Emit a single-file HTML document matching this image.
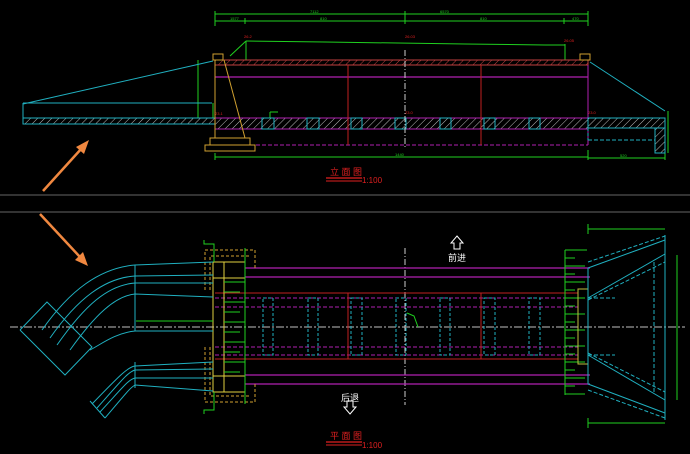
<!DOCTYPE html>
<html><head><meta charset="utf-8"><style>
html,body{margin:0;padding:0;background:#000;width:690px;height:454px;overflow:hidden}
svg{display:block}
text{font-family:"Liberation Sans","Noto Sans CJK SC",sans-serif}
</style></head><body>
<svg width="690" height="454" viewBox="0 0 690 454" xmlns="http://www.w3.org/2000/svg">
<defs>
<pattern id="hr" width="5" height="5" patternUnits="userSpaceOnUse" patternTransform="rotate(45)"><line x1="0" y1="0" x2="0" y2="5" stroke="#c04040" stroke-width="1"/></pattern>
<pattern id="hw" width="5" height="5" patternUnits="userSpaceOnUse" patternTransform="rotate(45)"><line x1="0" y1="0" x2="0" y2="5" stroke="#bbb" stroke-width="1"/></pattern>
</defs>
<rect width="690" height="454" fill="#000"/>
<!-- separators -->
<line x1="0" y1="195" x2="690" y2="195" stroke="#666" stroke-width="1"/>
<line x1="0" y1="212" x2="690" y2="212" stroke="#666" stroke-width="1"/>

<!-- ===== ELEVATION ===== -->
<g stroke="#1fd01f" stroke-width="1" fill="none">
<line x1="215" y1="14" x2="588" y2="14"/><line x1="215" y1="21" x2="588" y2="21"/>
<line x1="215" y1="11" x2="215" y2="26"/><line x1="588" y1="11" x2="588" y2="26"/>
<line x1="405" y1="11" x2="405" y2="24"/><line x1="245" y1="18" x2="245" y2="24"/><line x1="564" y1="18" x2="564" y2="24"/>
<line x1="215" y1="157" x2="588" y2="157"/><line x1="215" y1="153" x2="215" y2="160"/><line x1="588" y1="150" x2="588" y2="160"/>
<line x1="588" y1="158" x2="665" y2="158"/><line x1="665" y1="150" x2="665" y2="160"/>
<polyline points="246,41 325,42 465,44 545,45 565,45"/>
<line x1="246" y1="41" x2="246" y2="60"/><line x1="565" y1="44" x2="565" y2="60"/>
<line x1="230" y1="56" x2="246" y2="41"/>
<line x1="198" y1="60" x2="198" y2="118"/><line x1="23" y1="104" x2="23" y2="124"/>
<line x1="213" y1="103" x2="213" y2="118"/>
<line x1="668" y1="111" x2="668" y2="153"/>
<line x1="270" y1="112" x2="270" y2="118"/><line x1="270" y1="112" x2="278" y2="112"/>
</g>
<g fill="#1fd01f" font-size="4">
<text x="310" y="13">7112</text><text x="230" y="20">1577</text><text x="320" y="20">810</text><text x="440" y="13">6570</text><text x="480" y="20">810</text><text x="572" y="20">470</text>
<text x="395" y="156">1440</text><text x="620" y="157">520</text>
</g>
<g fill="#e02020" font-size="4"><text x="244" y="38">26.2</text><text x="405" y="38">26.03</text><text x="564" y="42">26.05</text><text x="215" y="115">23.1</text><text x="405" y="114">23.0</text><text x="588" y="114">23.0</text></g>
<rect x="215" y="60" width="373" height="5" fill="url(#hr)" stroke="#c04040" stroke-width="1"/>
<line x1="215" y1="77" x2="588" y2="77" stroke="#b020b0" stroke-width="1.2"/>
<rect x="215" y="118" width="373" height="11" fill="url(#hw)" stroke="#b020b0" stroke-width="1"/>
<g fill="none" stroke="#20b0c0" stroke-width="1">
<rect x="262" y="118" width="12" height="11"/><rect x="307" y="118" width="12" height="11"/><rect x="351" y="118" width="11" height="11"/><rect x="395" y="118" width="11" height="11"/><rect x="440" y="118" width="11" height="11"/><rect x="484" y="118" width="11" height="11"/><rect x="529" y="118" width="11" height="11"/>
</g>
<line x1="250" y1="145" x2="588" y2="145" stroke="#b020b0" stroke-dasharray="4,2"/>
<line x1="348" y1="65" x2="348" y2="145" stroke="#c02020"/><line x1="481" y1="65" x2="481" y2="145" stroke="#c02020"/>
<line x1="588" y1="65" x2="588" y2="145" stroke="#b020b0"/>
<line x1="405" y1="50" x2="405" y2="148" stroke="#ccc" stroke-dasharray="6,2,1,2"/>
<!-- left wing -->
<rect x="23" y="118" width="192" height="6" fill="url(#hw)" stroke="#20b0c0" stroke-width="1"/>
<line x1="23" y1="104" x2="213" y2="61" stroke="#20b0c0"/><line x1="23" y1="103" x2="212" y2="103" stroke="#20b0c0"/><line x1="23" y1="103" x2="23" y2="118" stroke="#20b0c0"/>
<!-- pier -->
<g fill="none" stroke="#d0a030" stroke-width="1">
<line x1="215" y1="60" x2="215" y2="138"/><line x1="224" y1="60" x2="245" y2="138"/>
<rect x="210" y="138" width="40" height="7"/><rect x="205" y="145" width="50" height="6"/>
<rect x="213" y="54" width="10" height="6"/><rect x="580" y="54" width="10" height="6"/>
</g>
<!-- right -->
<line x1="590" y1="62" x2="665" y2="111" stroke="#20b0c0"/>
<rect x="588" y="118" width="77" height="10" fill="url(#hw)" stroke="#20b0c0"/>
<rect x="655" y="128" width="10" height="25" fill="url(#hw)" stroke="#20b0c0"/>
<line x1="588" y1="140" x2="655" y2="140" stroke="#20b0c0" stroke-dasharray="4,2"/>
<line x1="588" y1="128" x2="588" y2="140" stroke="#20b0c0" stroke-dasharray="3,2"/>
<!-- title -->
<text x="330" y="175" fill="#e02020" font-size="9">立 面 图</text>
<line x1="326" y1="178" x2="362" y2="178" stroke="#e02020" stroke-width="1.3"/><line x1="326" y1="181" x2="362" y2="181" stroke="#e02020"/>
<text x="362" y="183" fill="#e02020" font-size="8">1:100</text>

<!-- arrows -->
<g stroke="#f08840" stroke-width="2.5" fill="#f08840">
<line x1="43" y1="191" x2="82" y2="148"/><polygon points="89,140 76,147 84,154" stroke="none"/>
<line x1="40" y1="214" x2="80" y2="257"/><polygon points="88,266 75,260 83,252" stroke="none"/>
</g>

<!-- ===== PLAN ===== -->
<line x1="10" y1="327" x2="685" y2="327" stroke="#999" stroke-width="1.2" stroke-dasharray="8,2,2,2"/>
<line x1="405" y1="248" x2="405" y2="405" stroke="#ccc" stroke-dasharray="6,2,1,2"/>
<g stroke="#b020b0" stroke-width="1.2">
<line x1="245" y1="268" x2="590" y2="268"/><line x1="245" y1="277" x2="590" y2="277"/>
<line x1="245" y1="375" x2="590" y2="375"/><line x1="245" y1="384" x2="590" y2="384"/>
</g>
<g stroke="#b020b0" stroke-dasharray="4,2"><line x1="215" y1="298" x2="578" y2="298"/><line x1="215" y1="307" x2="578" y2="307"/><line x1="215" y1="347" x2="578" y2="347"/><line x1="215" y1="355" x2="578" y2="355"/></g>
<g stroke="#c02020" fill="none"><line x1="215" y1="293" x2="578" y2="293"/><line x1="215" y1="359" x2="578" y2="359"/><line x1="348" y1="293" x2="348" y2="359"/><line x1="481" y1="293" x2="481" y2="359"/></g>
<g stroke="#20b0c0" stroke-dasharray="3,2" fill="none">
<rect x="263" y="298" width="10" height="57"/><rect x="308" y="298" width="10" height="57"/><rect x="351" y="298" width="11" height="57"/><rect x="396" y="298" width="10" height="57"/><rect x="440" y="298" width="10" height="57"/><rect x="484" y="298" width="11" height="57"/><rect x="529" y="298" width="11" height="57"/>
</g>
<polyline points="407,313 414,316 418,327" stroke="#1fd01f" fill="none"/>
<!-- left block -->
<g fill="none" stroke="#d0a030">
<rect x="213" y="262" width="32" height="130" stroke="#e0d040"/>
<line x1="224" y1="262" x2="224" y2="392" stroke="#e0d040"/>
<line x1="213" y1="278" x2="245" y2="278" stroke="#e0d040"/><line x1="213" y1="376" x2="245" y2="376" stroke="#e0d040"/>
<polyline points="205,290 205,250 255,250 255,268" stroke-dasharray="3,2"/>
<polyline points="210,290 210,256 250,256" stroke-dasharray="3,2"/>
<polyline points="205,347 205,402 255,402 255,384" stroke-dasharray="3,2"/>
<polyline points="210,347 210,396 250,396" stroke-dasharray="3,2"/>
</g>
<g stroke="#1fd01f">
<line x1="245" y1="248" x2="245" y2="404"/>
<line x1="224" y1="282" x2="245" y2="282"/><line x1="224" y1="292" x2="240" y2="292"/><line x1="224" y1="302" x2="245" y2="302"/><line x1="224" y1="312" x2="240" y2="312"/><line x1="224" y1="322" x2="245" y2="322"/><line x1="224" y1="332" x2="240" y2="332"/><line x1="224" y1="342" x2="245" y2="342"/><line x1="224" y1="352" x2="240" y2="352"/><line x1="224" y1="362" x2="245" y2="362"/><line x1="224" y1="372" x2="240" y2="372"/>
<polyline points="204,240 204,244 214,244 214,262" fill="none"/><polyline points="204,414 204,410 214,410 214,392" fill="none"/>
<line x1="136" y1="321" x2="213" y2="321"/>
</g>
<!-- left wings cyan -->
<g fill="none" stroke="#20b0c0" stroke-width="1">
<path d="M213,262 L135,265 C100,268 70,290 42,330"/>
<path d="M213,275 L135,276 C105,278 78,298 50,338"/>
<path d="M213,283 L135,283 C108,285 85,305 57,345"/>
<path d="M213,297 L135,294 C115,296 95,315 70,350"/>
<path d="M213,331 L135,331 C115,333 100,345 90,350"/>
<line x1="135" y1="265" x2="135" y2="331"/>
<polyline points="20,330 47,302 92,347 65,375 20,330"/>
<path d="M213,362 L135,366 C128,367 120,375 92,404"/>
<path d="M213,369 L135,370 C128,372 122,380 97,408"/>
<path d="M213,378 L135,378 C128,380 124,386 100,412"/>
<path d="M213,391 L135,385 C130,388 127,392 105,418"/>
<line x1="90" y1="401" x2="105" y2="418"/>
<line x1="135" y1="362" x2="135" y2="388"/>
</g>
<!-- right end -->
<g stroke="#1fd01f" fill="none">
<line x1="565" y1="250" x2="565" y2="395"/>
<line x1="565" y1="250" x2="587" y2="250"/><line x1="565" y1="258" x2="575" y2="258"/><line x1="565" y1="266" x2="585" y2="266"/><line x1="565" y1="274" x2="575" y2="274"/><line x1="565" y1="282" x2="585" y2="282"/><line x1="565" y1="290" x2="575" y2="290"/><line x1="565" y1="298" x2="585" y2="298"/><line x1="565" y1="306" x2="575" y2="306"/><line x1="565" y1="314" x2="585" y2="314"/><line x1="565" y1="322" x2="575" y2="322"/><line x1="565" y1="330" x2="585" y2="330"/><line x1="565" y1="338" x2="575" y2="338"/><line x1="565" y1="346" x2="585" y2="346"/><line x1="565" y1="354" x2="575" y2="354"/><line x1="565" y1="362" x2="585" y2="362"/><line x1="565" y1="370" x2="575" y2="370"/><line x1="565" y1="378" x2="585" y2="378"/><line x1="565" y1="386" x2="575" y2="386"/><line x1="565" y1="394" x2="585" y2="394"/>
<line x1="588" y1="229" x2="665" y2="229"/><line x1="588" y1="224" x2="588" y2="234"/>
<line x1="588" y1="423" x2="665" y2="423"/><line x1="588" y1="418" x2="588" y2="428"/>
<line x1="677" y1="255" x2="677" y2="400"/>
</g>
<rect x="578" y="289" width="10" height="75" fill="none" stroke="#c0c040"/>
<g fill="none" stroke="#20b0c0">
<line x1="588" y1="268" x2="588" y2="384"/>
<line x1="665" y1="235" x2="665" y2="420"/>
<line x1="588" y1="268" x2="665" y2="240"/><line x1="588" y1="298" x2="665" y2="254"/>
<line x1="588" y1="384" x2="665" y2="413"/><line x1="588" y1="355" x2="665" y2="400"/>
<g stroke-dasharray="4,2">
<line x1="588" y1="262" x2="665" y2="236"/><line x1="588" y1="300" x2="665" y2="262"/><line x1="588" y1="298" x2="615" y2="298"/>
<line x1="588" y1="390" x2="665" y2="418"/><line x1="588" y1="353" x2="665" y2="392"/><line x1="588" y1="355" x2="615" y2="355"/>
<line x1="654" y1="262" x2="654" y2="392"/>
</g>
</g>
<!-- arrows text -->
<g fill="none" stroke="#fff" stroke-width="1">
<polygon points="457,236 463,243 460,243 460,249 454,249 454,243 451,243"/>
<polygon points="350,414 356,407 353,407 353,401 347,401 347,407 344,407"/>
</g>
<text x="448" y="261" fill="#fff" font-size="9">前进</text>
<text x="341" y="401" fill="#fff" font-size="9">后退</text>
<text x="330" y="439" fill="#e02020" font-size="9">平 面 图</text>
<line x1="326" y1="442" x2="362" y2="442" stroke="#e02020" stroke-width="1.3"/><line x1="326" y1="445" x2="362" y2="445" stroke="#e02020"/>
<text x="362" y="448" fill="#e02020" font-size="8">1:100</text>
</svg>
</body></html>
